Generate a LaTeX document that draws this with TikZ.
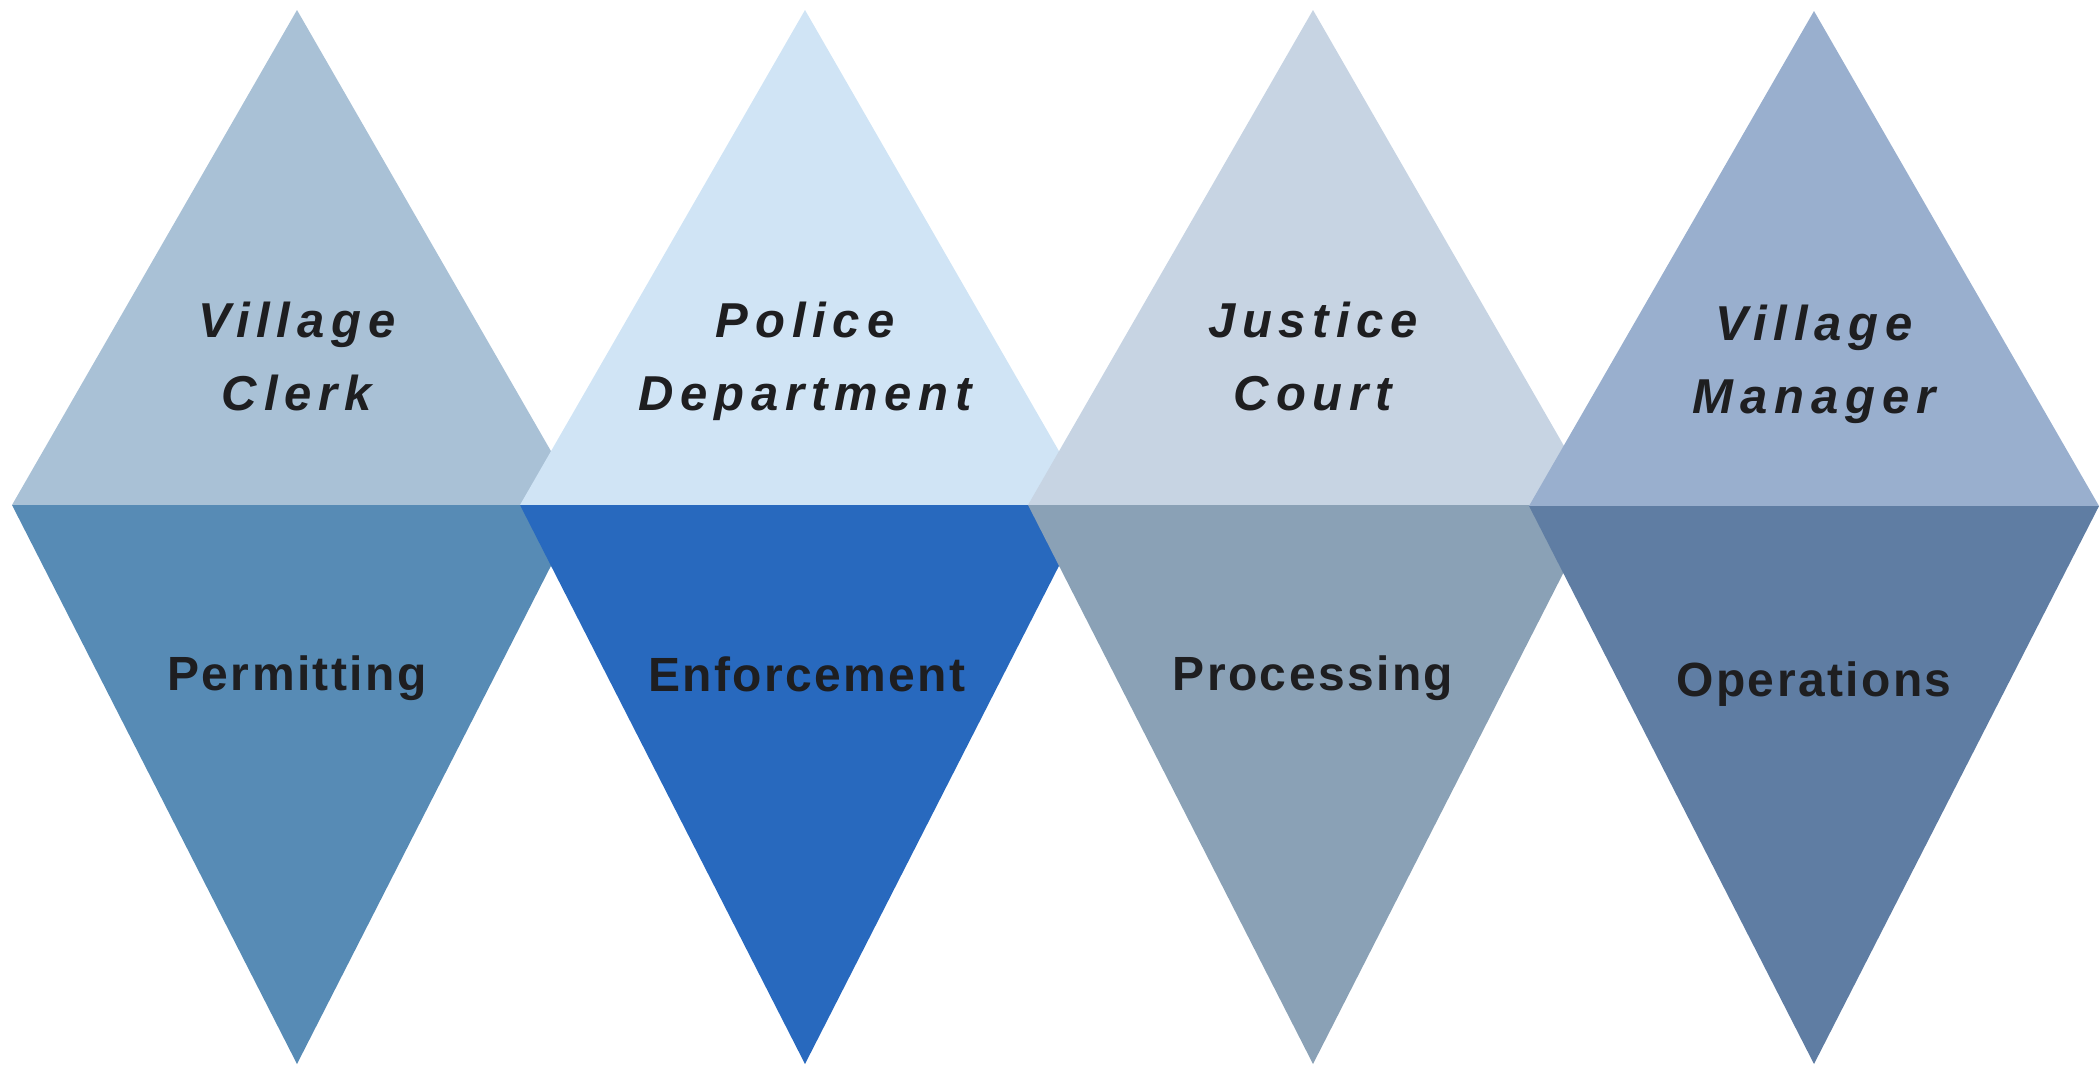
\documentclass[tikz,border=0pt]{standalone}
\usepackage{fontspec}
\usepackage{tikz}
\usetikzlibrary{positioning}
\newfontfamily\rolefont{Liberation Sans}[LetterSpace=14]
\newfontfamily\taskfont{Liberation Sans}[LetterSpace=5]
\definecolor{clerkup}{RGB}{169,193,214}
\definecolor{clerkdown}{RGB}{87,139,181}
\definecolor{policeup}{RGB}{208,228,245}
\definecolor{policedown}{RGB}{40,105,190}
\definecolor{courtup}{RGB}{199,212,227}
\definecolor{courtdown}{RGB}{138,161,182}
\definecolor{managerup}{RGB}{153,175,206}
\definecolor{managerdown}{RGB}{95,125,163}
\definecolor{labelink}{RGB}{30,30,32}

\begin{document}
\begin{tikzpicture}[x=1pt,y=-1pt,
    role/.style={text=labelink,align=center,inner sep=0pt,anchor=base,
      font=\rolefont\bfseries\itshape\fontsize{49}{73}\selectfont},
    task/.style={text=labelink,inner sep=0pt,anchor=base,
      font=\taskfont\bfseries\fontsize{48}{56}\selectfont}]
    \useasboundingbox (0,0) rectangle (2099,1066);
    % upper and lower halves, left to right
    \fill[clerkup] (297,10) -- (582,505) -- (12,505) -- cycle;
    \fill[clerkdown] (12,505) -- (582,505) -- (297,1064) -- cycle;
    \fill[policeup] (805,10) -- (1090,505) -- (520,505) -- cycle;
    \fill[policedown] (520,505) -- (1090,505) -- (805,1064) -- cycle;
    \fill[courtup] (1313,10) -- (1598,505) -- (1028,505) -- cycle;
    \fill[courtdown] (1028,505) -- (1598,505) -- (1313,1064) -- cycle;
    \fill[managerup] (1814,11) -- (2099,506) -- (1529,506) -- cycle;
    \fill[managerdown] (1529,506) -- (2099,506) -- (1814,1064) -- cycle;
    % labels (base = last line)
    \node[role] (clerk) at (297,410) {Village\\Clerk};
    \node[role] (police) at (805,410) {Police\\Department};
    \node[role] (court) at (1313,410) {Justice\\Court};
    \node[role] (manager) at (1814,413) {Village\\Manager};
    \node[task] (permit) at (297,690) {Permitting};
    \node[task] (enforce) at (807,691) {Enforcement};
    \node[task] (process) at (1313,690) {Processing};
    \node[task] (operate) at (1814,696) {Operations};
  \end{tikzpicture}
\end{document}
